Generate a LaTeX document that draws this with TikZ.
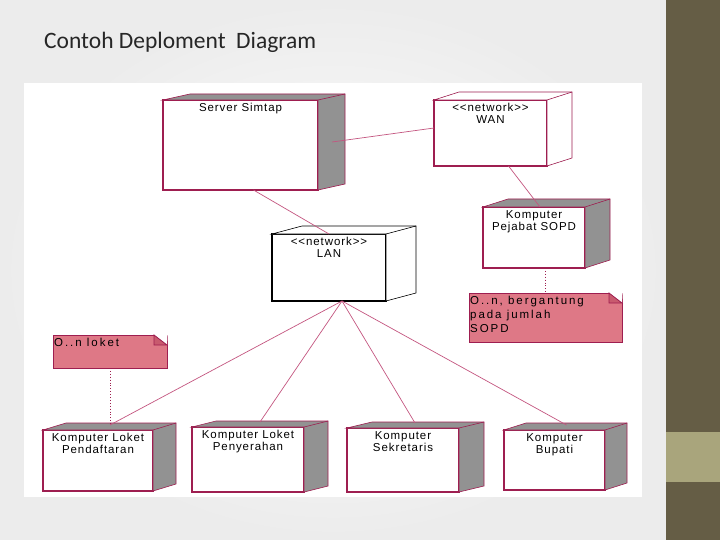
\documentclass[tikz,border=0pt]{standalone}
\usepackage{fontspec}
\setmainfont{Liberation Sans}
\newfontfamily\titlefont{Carlito}
\newfontfamily\boxfont[LetterSpace=8]{Liberation Sans}
\newfontfamily\notefont[LetterSpace=17]{Liberation Sans}
\usepackage{tikz}
\definecolor{crimson}{RGB}{158,30,80}
\definecolor{linkpink}{RGB}{196,86,128}
\definecolor{facegray}{RGB}{146,146,146}
\definecolor{notered}{RGB}{222,120,134}
\definecolor{folded}{RGB}{200,90,110}
\definecolor{barbrown}{RGB}{101,93,69}
\definecolor{barolive}{RGB}{169,165,124}

\begin{document}
\begin{tikzpicture}[x=1pt,y=-1pt,
	front/.style={draw=crimson,line width=1.2pt,fill=white,inner sep=0pt,outer sep=0pt,anchor=north west},
	face/.style={line width=0.6pt},
	boxtext/.style={font=\boxfont\fontsize{11.5}{12}\selectfont,align=center,anchor=north,inner sep=0pt,yshift=-3pt},
	notetext/.style={font=\notefont\fontsize{11.5}{14}\selectfont,align=left,anchor=north west,inner sep=0pt,shift={(1pt,-3pt)}},
	link/.style={draw=linkpink,line width=0.7pt},
	dep/.style={draw=crimson,line width=0.9pt,dotted},
	note/.style={fill=notered,draw=crimson,line width=1pt,inner sep=0pt,outer sep=0pt,anchor=north west}]
	\useasboundingbox (0,0) rectangle (720,540);
	% slide
	\shade[inner color=white,outer color=gray!15] (0,0) rectangle (666,540);
	\fill[white] (24,83) rectangle (642,497);
	\fill[barbrown] (666,0) rectangle (720,540);
	\fill[barolive] (666,432) rectangle (720,482);
	\node[font=\titlefont\fontsize{23.5}{28}\selectfont,text=black!85,anchor=base west,inner sep=0pt] (title) at (44,49) {Contoh Deploment\ \ Diagram};

	% nodes
	\node[front,minimum width=155pt,minimum height=90pt,label={[boxtext]north:Server Simtap}] (srv) at (163,100) {};
	\node[front,minimum width=113pt,minimum height=66pt,label={[boxtext]north:{<}{<}network{>}{>}\\WAN}] (wan) at (434,100) {};
	\node[front,draw=black,minimum width=114pt,minimum height=67pt,label={[boxtext]north:{<}{<}network{>}{>}\\LAN}] (lan) at (272,234) {};
	\node[front,minimum width=102pt,minimum height=61pt,label={[boxtext]north:Komputer\\Pejabat SOPD}] (pej) at (483,207) {};
	\node[front,minimum width=110pt,minimum height=61pt,label={[boxtext]north:Komputer Loket\\Pendaftaran}] (pend) at (43,430) {};
	\node[front,minimum width=112pt,minimum height=65pt,label={[boxtext]north:Komputer Loket\\Penyerahan}] (peny) at (192,427) {};
	\node[front,minimum width=112pt,minimum height=64pt,label={[boxtext]north:Komputer\\Sekretaris}] (sek) at (347,428) {};
	\node[front,minimum width=101pt,minimum height=60pt,label={[boxtext]north:Komputer\\Bupati}] (bup) at (504,430) {};

	% top and side faces
	\foreach \n/\dx/\dy/\c/\e in {srv/27/6/facegray/crimson, wan/25/8/white/crimson, lan/30/8/white/black, pej/25/8/facegray/crimson, pend/23/7/facegray/crimson, peny/24/6/facegray/crimson, sek/25/6/facegray/crimson, bup/22/7/facegray/crimson}{
		\filldraw[face,fill=\c,draw=\e] (\n.north west) -- ++(\dx,-\dy) -- ([shift={(\dx,-\dy)}]\n.north east) -- ([shift={(\dx,-\dy)}]\n.south east) -- (\n.south east) -- (\n.north east) -- cycle;
		\draw[face,draw=\e] (\n.north east) -- ++(\dx,-\dy);
	}

	% notes
	\node[note,minimum width=114pt,minimum height=33pt,label={[notetext]north west:O..n loket}] (loket) at (53,335) {};
	\node[note,minimum width=153pt,minimum height=49pt,label={[notetext]north west:{O..n, bergantung\\pada jumlah\\SOPD}}] (sopd) at (469,293) {};
	\foreach \n in {loket,sopd}{
		\fill[white] ([xshift=-13pt]\n.north east) -- ([shift={(0.6pt,0.6pt)}]\n.north east) -- ([yshift=-10pt]\n.north east) -- cycle;
		\filldraw[fill=folded,draw=crimson,line width=0.8pt] ([xshift=-13pt]\n.north east) -- ([shift={(-13pt,-10pt)}]\n.north east) -- ([yshift=-10pt]\n.north east) -- cycle;
	}

	% links
	\draw[link] ([shift={(14pt,3pt)}]srv.east) -- ([yshift=5pt]wan.west);
	\draw[link] ([xshift=13pt]srv.south) -- (lan.north);
	\draw[link] ([xshift=18pt]wan.south) -- ([xshift=6pt]pej.north);
	\foreach \n in {pend,peny,sek,bup}
		\draw[link] ([xshift=13pt]lan.south) -- ([shift={(12pt,5pt)}]\n.north);
	\draw[dep] (loket.south) -- ([yshift=5pt]loket.south |- pend.north);
	\draw[dep] (sopd.north |- pej.south) -- (sopd.north);
\end{tikzpicture}
\end{document}
